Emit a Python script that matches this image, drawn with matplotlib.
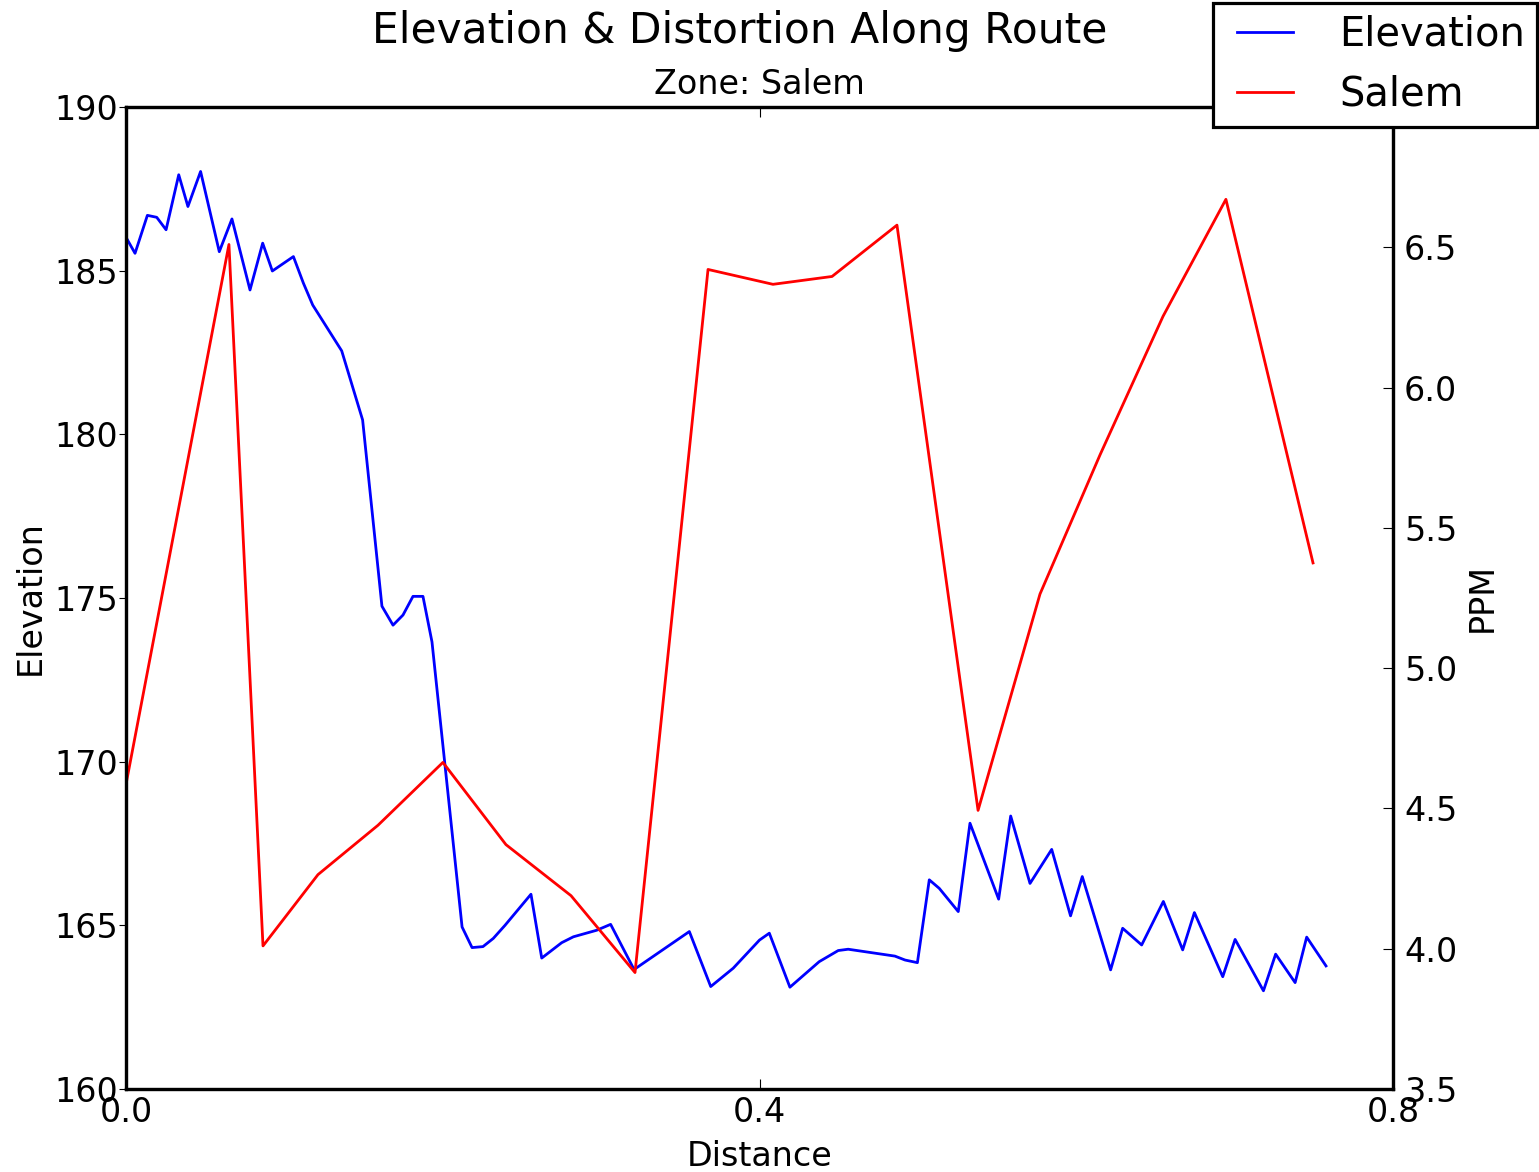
import matplotlib
matplotlib.use("Agg")
import matplotlib.pyplot as plt
from matplotlib.ticker import FormatStrFormatter

# ---- data ----
elev_dist = [0.0, 0.0057, 0.0135, 0.0194, 0.0253, 0.0333, 0.0391, 0.0471, 0.0589, 0.0669,
             0.0783, 0.0863, 0.0924, 0.1057, 0.112, 0.1179, 0.1362, 0.1494, 0.1616, 0.1686,
             0.1749, 0.1812, 0.1875, 0.1932, 0.2122, 0.2185, 0.2254, 0.2319, 0.2393, 0.2557,
             0.2625, 0.2751, 0.2825, 0.2972, 0.3060, 0.3208, 0.3557, 0.3692, 0.3834, 0.4000,
             0.4062, 0.4192, 0.4377, 0.4497, 0.4560, 0.4855, 0.4919, 0.4997, 0.5072, 0.5135,
             0.5255, 0.5329, 0.5510, 0.5586, 0.5708, 0.5845, 0.5964, 0.6038, 0.6217, 0.6293,
             0.6413, 0.6550, 0.6672, 0.6746, 0.6925, 0.7003, 0.7182, 0.7259, 0.7382, 0.7455,
             0.7577]
elevation = [186.02, 185.53, 186.69, 186.63, 186.25, 187.93, 186.96, 188.03, 185.58, 186.58,
             184.41, 185.84, 184.99, 185.43, 184.62, 183.95, 182.55, 180.44, 174.75, 174.17,
             174.48, 175.05, 175.05, 173.66, 164.95, 164.32, 164.35, 164.60, 165.00, 165.95,
             164.00, 164.47, 164.65, 164.85, 165.03, 163.65, 164.81, 163.13, 163.69, 164.55,
             164.76, 163.11, 163.89, 164.23, 164.27, 164.06, 163.94, 163.86, 166.39, 166.13,
             165.42, 168.12, 165.80, 168.34, 166.28, 167.32, 165.29, 166.49, 163.64, 164.91,
             164.40, 165.73, 164.25, 165.39, 163.43, 164.57, 163.00, 164.12, 163.25, 164.64,
             163.76]

ppm_dist = [0.0, 0.065, 0.0865, 0.1212, 0.1591, 0.2001, 0.2399, 0.281, 0.3214, 0.3675,
            0.4085, 0.4458, 0.4868, 0.538, 0.5771, 0.615, 0.6548, 0.6945, 0.7495]
ppm_salem = [4.586, 6.51, 4.01, 4.264, 4.44, 4.664, 4.371, 4.189, 3.915, 6.421,
             6.368, 6.396, 6.579, 4.493, 5.264, 5.76, 6.254, 6.671, 5.375]

x_ticks = [0.0, 0.4, 0.8]
elev_ticks = [160, 165, 170, 175, 180, 185, 190]
ppm_ticks = [3.5, 4.0, 4.5, 5.0, 5.5, 6.0, 6.5, 7.0]

title = "Elevation & Distortion Along Route"
subtitle = "Zone: Salem"

# ---- figure ----
plt.rcParams['font.family'] = ['DejaVu Sans']
fig = plt.figure(figsize=(15.39, 11.72), dpi=100)
ax = fig.add_axes([126 / 1539, 83 / 1172, (1393 - 126) / 1539, (1089 - 107) / 1172])
ax2 = ax.twinx()

l1, = ax.plot(elev_dist, elevation, color='blue', lw=2.0, label='Elevation')
l2, = ax2.plot(ppm_dist, ppm_salem, color='red', lw=2.0, label='Salem')

ax.set_xlim(0.0, 0.8)
ax.set_ylim(160, 190)
ax2.set_ylim(3.5, 7.0)
ax.set_xticks(x_ticks)
ax.set_yticks(elev_ticks)
ax2.set_yticks(ppm_ticks)
ax.xaxis.set_major_formatter(FormatStrFormatter('%.1f'))
ax2.yaxis.set_major_formatter(FormatStrFormatter('%.1f'))

fs = 24
for a in (ax, ax2):
    for s in a.spines.values():
        s.set_linewidth(2.3)
ax.tick_params(axis='x', direction='in', top=True, length=7, width=0.8, labelsize=fs, pad=5)
ax.tick_params(axis='y', direction='out', length=5, width=0.8, labelsize=fs, pad=0.5)
ax2.tick_params(axis='y', direction='in', length=7, width=0.8, labelsize=fs, pad=8)

ax.set_xlabel('Distance', fontsize=fs, labelpad=8)
ax.set_ylabel('Elevation', fontsize=fs, labelpad=6)
ax2.set_ylabel('PPM', fontsize=fs, labelpad=6)
ax.set_title(subtitle, fontsize=fs, pad=9)
fig.text(740 / 1539, 1 - 10 / 1172, title, fontsize=30.5, ha='center', va='top')

leg = fig.legend([l1, l2], ['Elevation', 'Salem'], loc='upper right',
                 bbox_to_anchor=(1537 / 1539, 1 - 3 / 1172), fontsize=28.8,
                 numpoints=2, handlelength=2.0, handletextpad=0.85, borderpad=0.3,
                 labelspacing=0.5, fancybox=False, framealpha=1.0, edgecolor='black',
                 borderaxespad=0.0)
leg.get_frame().set_linewidth(2.3)

fig.savefig('out.png', dpi=100, facecolor='white')
